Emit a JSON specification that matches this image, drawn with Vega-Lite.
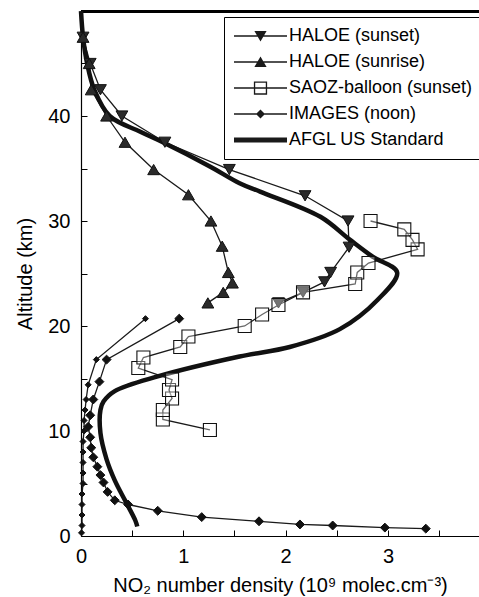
{
  "$schema": "https://vega.github.io/schema/vega-lite/v6.json",
  "width": 398,
  "height": 525,
  "autosize": {"type": "none"},
  "padding": {"left": 81, "top": 11, "right": 0, "bottom": 61},
  "background": "white",
  "config": {
    "font": "Liberation Sans",
    "view": {"stroke": null},
    "axis": {
      "domainColor": "black",
      "domainWidth": 1.2,
      "tickColor": "black",
      "tickSize": -6,
      "labelFont": "Liberation Sans",
      "labelFontSize": 20,
      "labelColor": "black",
      "titleFont": "Liberation Sans",
      "titleFontSize": 20,
      "titleFontWeight": "normal",
      "titleColor": "black",
      "grid": false
    }
  },
  "data": {
    "values": [
      {"series": "HALOE (sunset)", "profile": "hs", "x": 0.02, "alt": 47.5},
      {"series": "HALOE (sunset)", "profile": "hs", "x": 0.09, "alt": 45.0},
      {"series": "HALOE (sunset)", "profile": "hs", "x": 0.19, "alt": 42.5},
      {"series": "HALOE (sunset)", "profile": "hs", "x": 0.40, "alt": 40.0},
      {"series": "HALOE (sunset)", "profile": "hs", "x": 0.82, "alt": 37.5},
      {"series": "HALOE (sunset)", "profile": "hs", "x": 1.45, "alt": 34.9},
      {"series": "HALOE (sunset)", "profile": "hs", "x": 2.19, "alt": 32.4},
      {"series": "HALOE (sunset)", "profile": "hs", "x": 2.61, "alt": 30.0},
      {"series": "HALOE (sunset)", "profile": "hs", "x": 2.62, "alt": 27.5},
      {"series": "HALOE (sunset)", "profile": "hs", "x": 2.44, "alt": 25.1},
      {"series": "HALOE (sunset)", "profile": "hs", "x": 2.38, "alt": 24.2},
      {"series": "HALOE (sunset)", "profile": "hs", "x": 2.17, "alt": 23.2},
      {"series": "HALOE (sunset)", "profile": "hs", "x": 1.93, "alt": 22.2},
      {"series": "HALOE (sunrise)", "profile": "hr", "x": 0.02, "alt": 47.5},
      {"series": "HALOE (sunrise)", "profile": "hr", "x": 0.08, "alt": 45.0},
      {"series": "HALOE (sunrise)", "profile": "hr", "x": 0.10, "alt": 42.5},
      {"series": "HALOE (sunrise)", "profile": "hr", "x": 0.25, "alt": 40.0},
      {"series": "HALOE (sunrise)", "profile": "hr", "x": 0.43, "alt": 37.5},
      {"series": "HALOE (sunrise)", "profile": "hr", "x": 0.71, "alt": 34.9},
      {"series": "HALOE (sunrise)", "profile": "hr", "x": 1.05, "alt": 32.5},
      {"series": "HALOE (sunrise)", "profile": "hr", "x": 1.27, "alt": 30.0},
      {"series": "HALOE (sunrise)", "profile": "hr", "x": 1.38, "alt": 27.6},
      {"series": "HALOE (sunrise)", "profile": "hr", "x": 1.44, "alt": 25.1},
      {"series": "HALOE (sunrise)", "profile": "hr", "x": 1.48, "alt": 24.1},
      {"series": "HALOE (sunrise)", "profile": "hr", "x": 1.39, "alt": 23.2},
      {"series": "HALOE (sunrise)", "profile": "hr", "x": 1.24, "alt": 22.2},
      {"series": "SAOZ-balloon (sunset)", "profile": "sz", "x": 2.83, "alt": 30.0},
      {"series": "SAOZ-balloon (sunset)", "profile": "sz", "x": 3.16, "alt": 29.2},
      {"series": "SAOZ-balloon (sunset)", "profile": "sz", "x": 3.24, "alt": 28.2},
      {"series": "SAOZ-balloon (sunset)", "profile": "sz", "x": 3.29, "alt": 27.3},
      {"series": "SAOZ-balloon (sunset)", "profile": "sz", "x": 2.81, "alt": 26.0},
      {"series": "SAOZ-balloon (sunset)", "profile": "sz", "x": 2.70, "alt": 25.1},
      {"series": "SAOZ-balloon (sunset)", "profile": "sz", "x": 2.68, "alt": 24.0},
      {"series": "SAOZ-balloon (sunset)", "profile": "sz", "x": 2.17, "alt": 23.2},
      {"series": "SAOZ-balloon (sunset)", "profile": "sz", "x": 1.93, "alt": 22.0},
      {"series": "SAOZ-balloon (sunset)", "profile": "sz", "x": 1.77, "alt": 21.1},
      {"series": "SAOZ-balloon (sunset)", "profile": "sz", "x": 1.60, "alt": 20.0},
      {"series": "SAOZ-balloon (sunset)", "profile": "sz", "x": 1.05, "alt": 19.0},
      {"series": "SAOZ-balloon (sunset)", "profile": "sz", "x": 0.97, "alt": 18.0},
      {"series": "SAOZ-balloon (sunset)", "profile": "sz", "x": 0.61, "alt": 17.0},
      {"series": "SAOZ-balloon (sunset)", "profile": "sz", "x": 0.56, "alt": 16.0},
      {"series": "SAOZ-balloon (sunset)", "profile": "sz", "x": 0.89, "alt": 14.9},
      {"series": "SAOZ-balloon (sunset)", "profile": "sz", "x": 0.86, "alt": 13.9},
      {"series": "SAOZ-balloon (sunset)", "profile": "sz", "x": 0.89, "alt": 13.1},
      {"series": "SAOZ-balloon (sunset)", "profile": "sz", "x": 0.80, "alt": 12.0},
      {"series": "SAOZ-balloon (sunset)", "profile": "sz", "x": 0.80, "alt": 11.1},
      {"series": "SAOZ-balloon (sunset)", "profile": "sz", "x": 1.26, "alt": 10.1},
      {"series": "IMAGES (noon)", "profile": "ia", "x": 0.96, "alt": 20.7},
      {"series": "IMAGES (noon)", "profile": "ia", "x": 0.25, "alt": 16.8},
      {"series": "IMAGES (noon)", "profile": "ia", "x": 0.18, "alt": 14.7},
      {"series": "IMAGES (noon)", "profile": "ia", "x": 0.12, "alt": 13.0},
      {"series": "IMAGES (noon)", "profile": "ia", "x": 0.09, "alt": 11.5},
      {"series": "IMAGES (noon)", "profile": "ia", "x": 0.07, "alt": 10.4},
      {"series": "IMAGES (noon)", "profile": "ia", "x": 0.09, "alt": 9.4},
      {"series": "IMAGES (noon)", "profile": "ia", "x": 0.10, "alt": 8.4},
      {"series": "IMAGES (noon)", "profile": "ia", "x": 0.12, "alt": 7.5},
      {"series": "IMAGES (noon)", "profile": "ia", "x": 0.16, "alt": 6.6},
      {"series": "IMAGES (noon)", "profile": "ia", "x": 0.19, "alt": 5.8},
      {"series": "IMAGES (noon)", "profile": "ia", "x": 0.22, "alt": 5.1},
      {"series": "IMAGES (noon)", "profile": "ia", "x": 0.26, "alt": 4.2},
      {"series": "IMAGES (noon)", "profile": "ia", "x": 0.33, "alt": 3.4},
      {"series": "IMAGES (noon)", "profile": "ia", "x": 0.46, "alt": 3.0},
      {"series": "IMAGES (noon)", "profile": "ia", "x": 0.75, "alt": 2.4},
      {"series": "IMAGES (noon)", "profile": "ia", "x": 1.18, "alt": 1.8},
      {"series": "IMAGES (noon)", "profile": "ia", "x": 1.74, "alt": 1.4},
      {"series": "IMAGES (noon)", "profile": "ia", "x": 2.14, "alt": 1.1},
      {"series": "IMAGES (noon)", "profile": "ia", "x": 2.46, "alt": 1.0},
      {"series": "IMAGES (noon)", "profile": "ia", "x": 2.97, "alt": 0.8},
      {"series": "IMAGES (noon)", "profile": "ia", "x": 3.37, "alt": 0.7},
      {"series": "IMAGES (noon)", "profile": "ib", "x": 0.63, "alt": 20.7},
      {"series": "IMAGES (noon)", "profile": "ib", "x": 0.15, "alt": 16.8},
      {"series": "IMAGES (noon)", "profile": "ib", "x": 0.07, "alt": 14.4},
      {"series": "IMAGES (noon)", "profile": "ib", "x": 0.05, "alt": 13.0},
      {"series": "IMAGES (noon)", "profile": "ib", "x": 0.04, "alt": 12.0},
      {"series": "IMAGES (noon)", "profile": "ib", "x": 0.03, "alt": 11.0},
      {"series": "IMAGES (noon)", "profile": "ib", "x": 0.03, "alt": 10.0},
      {"series": "IMAGES (noon)", "profile": "ib", "x": 0.02, "alt": 9.0},
      {"series": "IMAGES (noon)", "profile": "ib", "x": 0.02, "alt": 8.0},
      {"series": "IMAGES (noon)", "profile": "ib", "x": 0.02, "alt": 7.0},
      {"series": "IMAGES (noon)", "profile": "ib", "x": 0.02, "alt": 6.0},
      {"series": "IMAGES (noon)", "profile": "ib", "x": 0.02, "alt": 5.0},
      {"series": "IMAGES (noon)", "profile": "ib", "x": 0.01, "alt": 4.0},
      {"series": "IMAGES (noon)", "profile": "ib", "x": 0.01, "alt": 3.0},
      {"series": "IMAGES (noon)", "profile": "ib", "x": 0.01, "alt": 2.0},
      {"series": "IMAGES (noon)", "profile": "ib", "x": 0.01, "alt": 1.0},
      {"series": "IMAGES (noon)", "profile": "ib", "x": 0.005, "alt": 0.3},
      {"series": "AFGL US Standard", "profile": "af", "x": 0.0, "alt": 50.0},
      {"series": "AFGL US Standard", "profile": "af", "x": 0.02, "alt": 47.5},
      {"series": "AFGL US Standard", "profile": "af", "x": 0.06, "alt": 45.0},
      {"series": "AFGL US Standard", "profile": "af", "x": 0.13, "alt": 42.5},
      {"series": "AFGL US Standard", "profile": "af", "x": 0.28, "alt": 40.0},
      {"series": "AFGL US Standard", "profile": "af", "x": 0.58, "alt": 38.5},
      {"series": "AFGL US Standard", "profile": "af", "x": 0.80, "alt": 37.5},
      {"series": "AFGL US Standard", "profile": "af", "x": 1.26, "alt": 35.2},
      {"series": "AFGL US Standard", "profile": "af", "x": 1.55, "alt": 33.6},
      {"series": "AFGL US Standard", "profile": "af", "x": 1.75, "alt": 32.8},
      {"series": "AFGL US Standard", "profile": "af", "x": 2.34, "alt": 30.4},
      {"series": "AFGL US Standard", "profile": "af", "x": 2.63, "alt": 28.2},
      {"series": "AFGL US Standard", "profile": "af", "x": 2.85, "alt": 26.6},
      {"series": "AFGL US Standard", "profile": "af", "x": 3.09, "alt": 25.1},
      {"series": "AFGL US Standard", "profile": "af", "x": 2.90, "alt": 22.5},
      {"series": "AFGL US Standard", "profile": "af", "x": 2.53, "alt": 19.7},
      {"series": "AFGL US Standard", "profile": "af", "x": 2.04, "alt": 18.0},
      {"series": "AFGL US Standard", "profile": "af", "x": 1.55, "alt": 17.1},
      {"series": "AFGL US Standard", "profile": "af", "x": 0.75, "alt": 15.2},
      {"series": "AFGL US Standard", "profile": "af", "x": 0.33, "alt": 13.8},
      {"series": "AFGL US Standard", "profile": "af", "x": 0.22, "alt": 12.8},
      {"series": "AFGL US Standard", "profile": "af", "x": 0.19, "alt": 12.0},
      {"series": "AFGL US Standard", "profile": "af", "x": 0.19, "alt": 9.8},
      {"series": "AFGL US Standard", "profile": "af", "x": 0.25, "alt": 7.3},
      {"series": "AFGL US Standard", "profile": "af", "x": 0.33, "alt": 5.3},
      {"series": "AFGL US Standard", "profile": "af", "x": 0.43, "alt": 3.4},
      {"series": "AFGL US Standard", "profile": "af", "x": 0.53, "alt": 1.5},
      {"series": "AFGL US Standard", "profile": "af", "x": 0.55, "alt": 0.9}
    ]
  },
  "encoding": {
    "x": {
      "field": "x", "type": "quantitative",
      "scale": {"domain": [0, 3.89], "nice": false, "zero": false},
      "axis": {
        "title": "NO₂ number density (10⁹ molec.cm⁻³)",
        "values": [0, 0.5, 1, 1.5, 2, 2.5, 3, 3.5],
        "format": ".0f",
        "labelExpr": "datum.value % 1 === 0 ? datum.label : ''",
        "labelPadding": 16,
        "titlePadding": 9,
        "labelFlush": false
      }
    },
    "y": {
      "field": "alt", "type": "quantitative",
      "scale": {"domain": [0, 50], "nice": false},
      "axis": {
        "title": "Altitude (km)",
        "values": [0, 5, 10, 15, 20, 25, 30, 35, 40, 45],
        "format": ".0f",
        "labelExpr": "datum.value % 10 === 0 ? datum.label : ''",
        "labelPadding": 17,
        "titlePadding": 12,
        "labelFlush": false
      }
    },
    "order": {"field": "alt", "type": "quantitative"}
  },
  "layer": [
    {
      "mark": {"type": "rule", "color": "black", "strokeWidth": 1.5},
      "encoding": {"y": {"datum": 49.95}, "x": {"datum": 0}, "x2": {"datum": 3.89}}
    },
    {
      "transform": [{"filter": "datum.series !== 'AFGL US Standard'"}],
      "mark": {"type": "line", "color": "#1a1a1a", "strokeWidth": 1.3},
      "encoding": {"detail": {"field": "profile"}}
    },
    {
      "transform": [{"filter": "datum.series === 'AFGL US Standard'"}],
      "mark": {"type": "line", "color": "#111111", "strokeWidth": 4.5, "interpolate": "catmull-rom", "strokeCap": "butt"},
      "encoding": {"detail": {"field": "profile"}}
    },
    {
      "transform": [{"filter": "datum.series === 'HALOE (sunset)'"}],
      "mark": {"type": "point", "shape": "triangle-down", "filled": true, "fill": "#2a2a2a", "stroke": "#111111", "strokeWidth": 1, "size": 140, "opacity": 1}
    },
    {
      "transform": [{"filter": "datum.series === 'HALOE (sunrise)'"}],
      "mark": {"type": "point", "shape": "triangle-up", "filled": true, "fill": "#2a2a2a", "stroke": "#111111", "strokeWidth": 1, "size": 140, "opacity": 1}
    },
    {
      "transform": [{"filter": "datum.series === 'SAOZ-balloon (sunset)'"}],
      "mark": {"type": "point", "shape": "square", "filled": true, "fill": "white", "fillOpacity": 0.35, "stroke": "#111111", "strokeWidth": 1.1, "size": 169, "opacity": 1}
    },
    {
      "transform": [{"filter": "datum.profile === 'ia'"}],
      "mark": {"type": "point", "shape": "diamond", "filled": true, "fill": "#111111", "stroke": "#111111", "strokeWidth": 1, "size": 80, "opacity": 1}
    },
    {
      "transform": [{"filter": "datum.profile === 'ib'"}],
      "mark": {"type": "point", "shape": "diamond", "filled": true, "fill": "#111111", "stroke": "#111111", "strokeWidth": 1, "size": 36, "opacity": 1}
    },
    {
      "transform": [{"filter": "false"}],
      "mark": {"type": "point", "filled": true, "color": "#1a1a1a", "size": 2809, "opacity": 1},
      "encoding": {
        "shape": {
          "field": "series", "type": "nominal",
          "scale": {
            "domain": ["HALOE (sunset)", "HALOE (sunrise)", "SAOZ-balloon (sunset)", "IMAGES (noon)", "AFGL US Standard"],
            "range": [
              "M-1,-0.025H1V0.025H-1ZM-0.23,-0.19H0.23L0,0.21Z",
              "M-1,-0.025H1V0.025H-1ZM0.23,0.19H-0.23L0,-0.21Z",
              "M-1,-0.025H1V0.025H-1ZM-0.25,-0.25H0.25V0.25H-0.25ZM-0.2,-0.2V0.2H0.2V-0.2Z",
              "M-1,-0.025H1V0.025H-1ZM0,-0.17L0.17,0L0,0.17L-0.17,0Z",
              "M-1,-0.095H1V0.095H-1Z"
            ]
          },
          "legend": {
            "title": null,
            "orient": "none",
            "legendX": 143,
            "legendY": 6,
            "strokeColor": "black",
            "fillColor": "white",
            "padding": 10,
            "labelFont": "Liberation Sans",
            "labelFontSize": 18,
            "labelColor": "black",
            "labelOffset": 2,
            "symbolSize": 2809,
            "symbolFillColor": "#1a1a1a",
            "symbolStrokeWidth": 0,
            "symbolOpacity": 1,
            "clipHeight": 18,
            "rowPadding": 8,
            "labelLimit": 300
          }
        }
      }
    }
  ]
}
